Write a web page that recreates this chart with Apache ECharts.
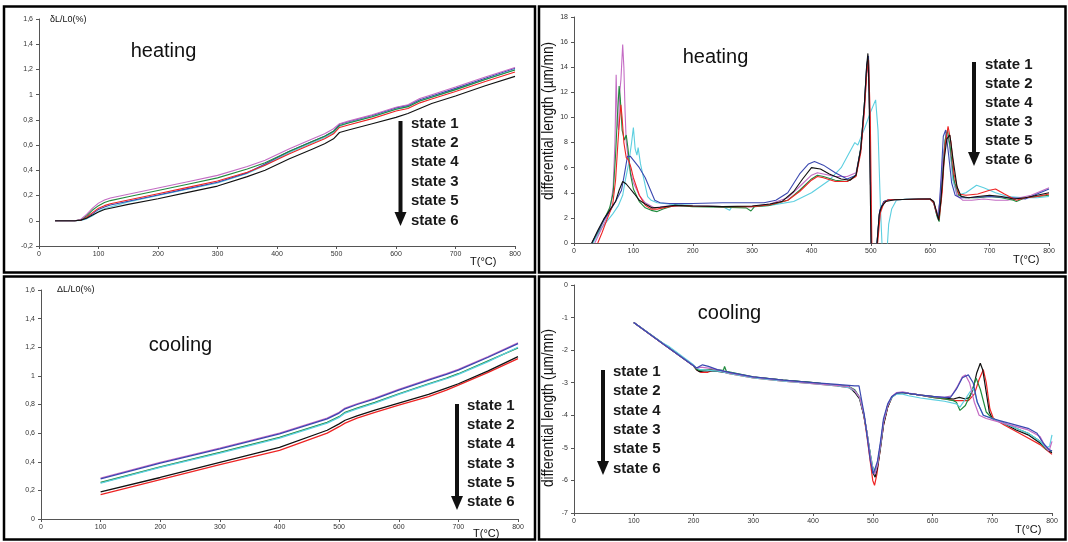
<!DOCTYPE html>
<html>
<head>
<meta charset="utf-8">
<script src="https://cdn.jsdelivr.net/npm/echarts@6/dist/echarts.min.js"></script>
<style>
html,body{margin:0;padding:0;background:#fff;}
#chart{width:1068px;height:542px;}
</style>
</head>
<body>
<div id="chart"></div>
<script>
// ---------- tick / legend labels ----------
const legendLabels = ['state 1', 'state 2', 'state 4', 'state 3', 'state 5', 'state 6'];
const seriesKeys = ['black', 'red', 'green', 'blue', 'magenta', 'cyan'];

// ---------- Panel 1 : heating, dL/L0 (%) ----------
const heatDL_T = [27,50,60,70,80,90,100,110,120,150,200,250,300,350,380,420,460,480,495,505,520,560,600,620,640,660,700,750,800];
const heatDL_black   = [0,0,0,0.005,0.02,0.045,0.07,0.09,0.10,0.13,0.175,0.225,0.275,0.35,0.40,0.49,0.57,0.61,0.65,0.70,0.72,0.77,0.82,0.85,0.89,0.93,0.99,1.07,1.145];
const heatDL_magenta = [0,0,0,0.01,0.05,0.10,0.14,0.165,0.18,0.21,0.26,0.31,0.36,0.43,0.48,0.57,0.65,0.69,0.73,0.77,0.79,0.84,0.90,0.92,0.97,1.00,1.06,1.14,1.215];
const heatDL_green   = [0,0,0,0.008,0.04,0.085,0.12,0.145,0.16,0.19,0.24,0.29,0.34,0.41,0.46,0.55,0.63,0.67,0.71,0.755,0.775,0.825,0.885,0.905,0.95,0.98,1.04,1.12,1.195];
const heatDL_red     = [0,0,0,0.005,0.03,0.065,0.10,0.12,0.135,0.165,0.215,0.265,0.315,0.385,0.44,0.53,0.61,0.65,0.69,0.74,0.76,0.81,0.87,0.89,0.935,0.965,1.025,1.105,1.18];
const heatDL_blue    = [0,0,0,0.004,0.025,0.055,0.09,0.11,0.125,0.155,0.205,0.255,0.305,0.38,0.45,0.55,0.63,0.67,0.71,0.765,0.785,0.835,0.895,0.915,0.96,0.99,1.05,1.13,1.21];
const heatDL_cyan    = [0,0,0,0.003,0.015,0.04,0.075,0.095,0.11,0.15,0.20,0.25,0.30,0.375,0.44,0.54,0.62,0.66,0.70,0.75,0.775,0.825,0.885,0.905,0.95,0.98,1.04,1.12,1.20];

// ---------- Panel 2 : heating, differential length ----------
const heatDiff_black_T = [30,40,50,60,70,76,82,88,95,102,110,120,131,145,170,200,250,300,330,350,370,385,400,415,430,450,465,475,483,489,493,495,497,499,501,508,511,514,518,525,540,580,600,606,610,614,618,623,628,633,638,645,652,665,680,700,720,740,760,780,800];
const heatDiff_black_V = [0,1.0,1.9,2.6,3.3,4.2,4.9,4.7,4.3,3.9,3.4,3.1,2.8,2.85,3.0,2.95,2.9,2.95,3.1,3.3,4.1,5.1,6.0,5.9,5.5,5.1,5.0,5.4,7.5,11,14.2,15.1,12,4,-1.5,-1.5,0.3,2.3,2.9,3.3,3.45,3.5,3.5,3.3,2.6,1.8,3.4,6.5,8.3,8.6,6.8,4.5,3.7,3.6,3.7,3.8,3.7,3.5,3.6,3.8,4.0];
const heatDiff_magenta_T = [35,45,55,62,66,69,71,73,75,77,79,82,84,86,88,92,96,100,110,120,135,150,170,200,250,300,330,360,380,400,410,420,440,460,475,483,489,493,496,498,501,508,511,515,522,530,600,606,612,616,621,627,632,638,645,655,670,690,710,730,750,770,790,800];
const heatDiff_magenta_V = [0,1.0,2.0,3.0,4.5,8,13.4,9.5,9,12,13,15.8,14,10.5,8,6.5,5.5,4.8,3.8,3.2,2.8,2.9,3.0,2.95,2.9,2.9,3.1,3.6,4.5,5.4,5.6,5.5,5.3,5.3,5.6,7.5,10.5,13.5,14.3,10,-1.5,-1.5,0.5,2.6,3.3,3.45,3.5,3.2,2.2,3.2,6.5,8.7,8,5.5,3.8,3.4,3.4,3.5,3.4,3.4,3.6,3.8,4.2,4.4];
const heatDiff_green_T = [30,42,52,60,66,70,73,76,78,81,85,88,91,95,100,110,120,130,140,150,170,200,250,290,298,304,330,360,380,400,410,420,440,460,475,483,489,493,496,498,501,508,511,515,522,530,600,606,611,615,620,625,629,634,640,648,660,680,700,720,740,745,760,780,800];
const heatDiff_green_V = [0,1.0,2.0,2.8,4.0,7,10,12.5,11.5,9,8.2,8.6,7.5,5.5,4.3,3.3,2.8,2.6,2.5,2.7,3.0,2.9,2.85,2.8,2.55,2.9,3.0,3.4,4.2,5.1,5.4,5.3,5.0,4.9,5.4,7.6,11,14,14.6,10,-1.5,-1.5,0.4,2.5,3.3,3.45,3.5,3.2,2.2,1.7,4.5,8.2,9.0,7.5,5.0,3.8,3.6,3.6,3.7,3.6,3.4,3.3,3.6,3.7,3.8];
const heatDiff_red_T = [40,47,55,65,70,74,77,79,81,84,88,92,96,100,110,120,130,140,160,180,200,250,300,330,360,380,400,410,420,440,460,475,483,489,493,496,499,502,508,512,516,522,530,600,606,611,615,620,625,630,635,640,648,660,680,700,710,725,745,760,780,800];
const heatDiff_red_V = [0,0.8,1.8,3.0,5,8,10,11,10,8,6.8,6.6,6.0,5.2,3.8,3.0,2.7,2.7,2.9,3.0,2.95,2.9,2.9,3.05,3.4,4.1,5.0,5.3,5.2,4.9,4.9,5.3,7.2,10.5,13.5,14.6,10,-1.5,-1.5,0.3,2.4,3.2,3.45,3.5,3.2,2.3,1.9,4.0,7.8,9.3,8.0,5.5,3.9,3.8,3.9,4.2,4.3,3.9,3.4,3.6,3.7,3.9];
const heatDiff_blue_T = [30,40,50,60,70,80,85,90,95,100,110,120,128,136,145,160,200,250,300,320,340,360,380,395,405,420,440,460,475,483,489,493,496,498,501,508,511,515,522,530,600,605,610,614,618,622,626,631,636,642,650,660,700,740,760,780,800];
const heatDiff_blue_V = [0,0.9,1.8,2.5,3.3,4.2,5.5,6.9,6.9,6.6,6.0,5.2,4.3,3.4,3.2,3.15,3.15,3.2,3.2,3.2,3.4,4.0,5.5,6.3,6.5,6.2,5.6,5.1,5.4,7.5,11,14.2,14.9,10,-1.5,-1.5,0.4,2.6,3.3,3.45,3.5,3.3,2.5,2.0,5.0,8.5,9.0,7.0,4.8,3.8,3.6,3.6,3.7,3.6,3.5,3.9,4.3];
const heatDiff_cyan_T = [32,45,55,65,75,82,86,92,97,100,103,106,108,112,118,124,130,140,160,200,250,262,266,300,330,370,400,430,450,465,473,478,490,500,508,512,516,520,526,530,535,543,560,600,606,612,617,622,627,632,638,645,660,678,690,710,730,760,780,800];
const heatDiff_cyan_V = [0,1.1,1.7,2.3,3.0,3.8,4.9,6.3,8,9.2,7.5,7.0,7.6,6.3,5.0,3.7,3.4,3.2,3.1,3.0,2.9,2.6,2.9,2.9,3.0,3.3,4.0,5.0,6.0,7.3,8.0,7.8,9.2,10.5,11.4,9,3,-1.5,-1.5,1.5,2.7,3.4,3.5,3.5,3.2,2.0,3.5,7,8.8,8,5,3.8,4.0,4.6,4.4,4.0,3.7,3.6,3.6,3.7];

// ---------- Panel 3 : cooling, dL/L0 (%) ----------
const coolDL_T = [100,200,300,400,480,500,510,530,560,600,650,680,700,750,800];
const coolDL_blue    = [0.28,0.39,0.49,0.595,0.70,0.74,0.77,0.80,0.84,0.90,0.97,1.01,1.04,1.13,1.225];
const coolDL_magenta = [0.285,0.395,0.495,0.60,0.705,0.745,0.775,0.805,0.845,0.905,0.975,1.015,1.045,1.135,1.23];
const coolDL_cyan    = [0.25,0.36,0.46,0.565,0.67,0.71,0.74,0.77,0.81,0.87,0.94,0.98,1.01,1.10,1.20];
const coolDL_green   = [0.255,0.365,0.465,0.57,0.675,0.715,0.745,0.775,0.815,0.875,0.945,0.985,1.015,1.105,1.195];
const coolDL_black   = [0.19,0.29,0.395,0.50,0.62,0.665,0.69,0.72,0.76,0.81,0.87,0.915,0.945,1.035,1.135];
const coolDL_red     = [0.17,0.275,0.38,0.48,0.60,0.645,0.67,0.705,0.745,0.795,0.855,0.90,0.935,1.025,1.12];

// ---------- Panel 4 : cooling, differential length ----------
const coolDiff_black_T = [100,150,200,205,210,220,240,260,300,350,400,440,460,470,478,485,490,495,500,504,508,513,518,525,532,540,550,560,580,600,620,635,645,655,662,668,674,680,684,690,695,700,720,740,760,780,790,795,800];
const coolDiff_black_V = [-1.15,-1.82,-2.48,-2.6,-2.66,-2.63,-2.65,-2.7,-2.83,-2.92,-3.0,-3.08,-3.12,-3.3,-3.5,-4.0,-4.5,-5.1,-5.75,-5.9,-5.6,-5.0,-4.3,-3.75,-3.45,-3.32,-3.3,-3.33,-3.38,-3.42,-3.47,-3.5,-3.45,-3.5,-3.45,-3.2,-2.7,-2.4,-2.6,-3.3,-3.9,-4.1,-4.25,-4.45,-4.6,-4.85,-5.0,-5.1,-5.15];
const coolDiff_red_T = [100,150,200,205,212,224,235,260,300,350,400,440,460,470,478,485,490,495,500,503,507,512,518,525,532,540,550,560,580,600,620,640,650,660,670,678,685,690,696,702,720,740,760,780,790,800];
const coolDiff_red_V = [-1.15,-1.82,-2.48,-2.6,-2.68,-2.68,-2.6,-2.72,-2.85,-2.95,-3.03,-3.1,-3.15,-3.25,-3.45,-4.0,-4.6,-5.3,-6.0,-6.15,-5.8,-5.1,-4.3,-3.75,-3.45,-3.33,-3.3,-3.33,-3.38,-3.45,-3.5,-3.55,-3.55,-3.55,-3.35,-2.9,-2.6,-3.0,-3.8,-4.1,-4.3,-4.5,-4.7,-4.9,-5.05,-5.2];
const coolDiff_green_T = [100,150,200,205,210,230,250,252,255,300,350,400,440,460,470,478,485,490,495,500,504,508,513,518,525,532,540,550,560,580,600,620,635,640,646,655,665,673,680,690,700,720,740,760,780,790,800];
const coolDiff_green_V = [-1.15,-1.8,-2.47,-2.58,-2.62,-2.6,-2.62,-2.5,-2.65,-2.82,-2.92,-3.0,-3.08,-3.12,-3.22,-3.45,-3.95,-4.5,-5.1,-5.6,-5.7,-5.5,-4.9,-4.2,-3.7,-3.45,-3.32,-3.3,-3.33,-3.38,-3.45,-3.5,-3.55,-3.6,-3.85,-3.7,-3.3,-2.86,-3.2,-3.9,-4.1,-4.25,-4.4,-4.55,-4.8,-5.05,-5.1];
const coolDiff_blue_T = [100,150,200,205,215,225,240,260,300,350,400,440,460,470,477,481,486,491,496,501,504,508,513,518,525,532,540,550,560,580,600,620,630,640,650,660,668,675,685,700,720,740,760,775,785,795,800];
const coolDiff_blue_V = [-1.15,-1.82,-2.48,-2.55,-2.45,-2.5,-2.6,-2.68,-2.82,-2.92,-3.0,-3.05,-3.08,-3.1,-3.1,-3.5,-4.0,-4.7,-5.4,-5.8,-5.75,-5.4,-4.8,-4.1,-3.65,-3.42,-3.32,-3.3,-3.33,-3.38,-3.42,-3.45,-3.45,-3.2,-2.85,-2.76,-3.0,-3.6,-4.0,-4.1,-4.2,-4.3,-4.4,-4.55,-4.85,-5.05,-5.1];
const coolDiff_magenta_T = [100,150,200,205,212,225,245,260,300,350,400,440,460,470,478,485,490,495,500,504,508,513,518,525,532,540,550,560,580,600,620,632,642,650,655,662,670,678,690,700,720,740,760,780,790,795,800];
const coolDiff_magenta_V = [-1.15,-1.82,-2.48,-2.55,-2.52,-2.55,-2.62,-2.7,-2.83,-2.93,-3.02,-3.08,-3.12,-3.25,-3.45,-3.95,-4.5,-5.15,-5.7,-5.8,-5.5,-4.9,-4.2,-3.7,-3.42,-3.3,-3.28,-3.32,-3.38,-3.43,-3.45,-3.4,-3.1,-2.82,-2.76,-3.0,-3.6,-4.0,-4.1,-4.15,-4.25,-4.35,-4.45,-4.65,-5.0,-5.1,-4.8];
const coolDiff_cyan_T = [100,150,160,200,205,212,225,245,260,300,350,400,440,460,470,478,485,490,495,500,504,508,513,518,525,532,540,550,560,580,600,620,640,646,655,662,669,675,685,700,720,740,760,780,790,796,800];
const coolDiff_cyan_V = [-1.15,-1.8,-1.9,-2.45,-2.55,-2.6,-2.62,-2.65,-2.72,-2.85,-2.95,-3.03,-3.1,-3.15,-3.25,-3.45,-3.95,-4.5,-5.1,-5.6,-5.75,-5.5,-4.9,-4.2,-3.7,-3.45,-3.35,-3.35,-3.4,-3.47,-3.52,-3.57,-3.65,-3.75,-3.5,-3.3,-3.17,-3.6,-4.0,-4.1,-4.25,-4.4,-4.55,-4.8,-5.0,-4.95,-4.6];

// ---------- styling ----------
const COLORS = {black:'#111111', red:'#ee2424', green:'#1f8a3c', blue:'#3a48b0', magenta:'#c46cc4', cyan:'#5ccfe0'};
const FONT = 'Liberation Sans, Arial, sans-serif';

function pairs(T, V) { return T.map((t, i) => [t, V[i]]); }
function commaFmt(v) { return String(Math.round(v * 10) / 10).replace('.', ','); }

function xAx(gi) {
  return {
    type: 'value', gridIndex: gi, min: 0, max: 800, interval: 100,
    axisLine: {onZero: false, lineStyle: {color: '#555', width: 1}},
    axisTick: {show: true, length: 3, lineStyle: {color: '#555'}},
    axisLabel: {fontSize: 7, color: '#333', margin: 5, fontFamily: FONT},
    splitLine: {show: false}
  };
}
function yAx(gi, min, max, interval, fmt) {
  return {
    type: 'value', gridIndex: gi, min: min, max: max, interval: interval,
    axisLine: {show: true, onZero: false, lineStyle: {color: '#555', width: 1}},
    axisTick: {show: true, length: 3, lineStyle: {color: '#555'}},
    axisLabel: {fontSize: 7, color: '#333', margin: 6, fontFamily: FONT, formatter: fmt},
    splitLine: {show: false}
  };
}
function line(name, gi, data, color, w) {
  return {
    name: name, type: 'line', xAxisIndex: gi, yAxisIndex: gi, data: data,
    showSymbol: false, symbol: 'none', clip: true, animation: false,
    lineStyle: {color: color, width: w || 1}, itemStyle: {color: color}
  };
}

const series = [];
// panel 1
const heatDL = {black: heatDL_black, red: heatDL_red, green: heatDL_green, blue: heatDL_blue, magenta: heatDL_magenta, cyan: heatDL_cyan};
['cyan','blue','red','green','magenta','black'].forEach(k => series.push(line(k, 0, pairs(heatDL_T, heatDL[k]), COLORS[k], 1.1)));
// panel 2
const heatDiff = {
  black: pairs(heatDiff_black_T, heatDiff_black_V), red: pairs(heatDiff_red_T, heatDiff_red_V),
  green: pairs(heatDiff_green_T, heatDiff_green_V), blue: pairs(heatDiff_blue_T, heatDiff_blue_V),
  magenta: pairs(heatDiff_magenta_T, heatDiff_magenta_V), cyan: pairs(heatDiff_cyan_T, heatDiff_cyan_V)
};
['cyan','magenta','green','blue','red','black'].forEach(k => series.push(line(k, 1, heatDiff[k], COLORS[k], 1.1)));
// panel 3
const coolDL = {black: coolDL_black, red: coolDL_red, green: coolDL_green, blue: coolDL_blue, magenta: coolDL_magenta, cyan: coolDL_cyan};
['red','black','green','cyan','magenta','blue'].forEach(k => series.push(line(k, 2, pairs(coolDL_T, coolDL[k]), COLORS[k], 1.3)));
// panel 4
const coolDiff = {
  black: pairs(coolDiff_black_T, coolDiff_black_V), red: pairs(coolDiff_red_T, coolDiff_red_V),
  green: pairs(coolDiff_green_T, coolDiff_green_V), blue: pairs(coolDiff_blue_T, coolDiff_blue_V),
  magenta: pairs(coolDiff_magenta_T, coolDiff_magenta_V), cyan: pairs(coolDiff_cyan_T, coolDiff_cyan_V)
};
['red','black','green','cyan','magenta','blue'].forEach(k => series.push(line(k, 3, coolDiff[k], COLORS[k], 1.2)));

// ---------- annotations ----------
const graphics = [];
function frame(x, y, w, h) {
  graphics.push({type: 'rect', shape: {x: x, y: y, width: w, height: h}, style: {fill: 'none', stroke: '#000', lineWidth: 2.5}, silent: true, z: 100});
}
frame(4, 6.5, 531, 266);
frame(539, 6.5, 526.5, 266);
frame(4, 276.5, 531, 263);
frame(539, 276.5, 526.5, 263);

function txt(s, x, y, size, opts) {
  const o = opts || {};
  graphics.push({
    type: 'text', x: x, y: y, rotation: o.rotation || 0, scaleX: o.scaleX || 1, silent: true, z: 100,
    style: {text: s, fill: o.color || '#111', fontSize: size, fontFamily: o.family || FONT,
            fontWeight: o.weight || 'normal', textAlign: o.align || 'left', textVerticalAlign: 'middle'}
  });
}
function legendBlock(tx, ty, dy, ax, aTop, aHead, aTip) {
  legendLabels.forEach((s, i) => txt(s, tx, ty + i * dy, 15, {weight: 'bold', color: '#1a1a1a'}));
  graphics.push({type: 'rect', shape: {x: ax - 2, y: aTop, width: 4, height: aHead - aTop + 1}, style: {fill: '#111'}, silent: true, z: 100});
  graphics.push({type: 'polygon', shape: {points: [[ax - 6, aHead], [ax + 6, aHead], [ax, aTip]]}, style: {fill: '#111'}, silent: true, z: 100});
}
legendBlock(411, 123.5, 19.4, 400.5, 121, 212, 226);
legendBlock(985, 65, 19, 974, 62, 152, 166);
legendBlock(467, 405.5, 19.3, 457, 404, 496, 510);
legendBlock(613, 372, 19.3, 603, 370, 461, 475);

txt('heating', 163.5, 51, 20, {align: 'center'});
txt('heating', 715.5, 57, 20, {align: 'center'});
txt('cooling', 180.5, 345, 20, {align: 'center'});
txt('cooling', 729.5, 313, 20, {align: 'center'});

txt('T(°C)', 470, 262, 11);
txt('T(°C)', 1013, 260, 11);
txt('T(°C)', 473, 534, 11);
txt('T(°C)', 1015, 530, 11);

txt('δL/L0(%)', 50, 20, 9);
txt('ΔL/L0(%)', 57, 290, 9);
txt('differential length (µm/mn)', 548, 121, 17, {align: 'center', rotation: Math.PI / 2, scaleX: 0.8});
txt('differential length (µm/mn)', 548, 408, 17, {align: 'center', rotation: Math.PI / 2, scaleX: 0.8});

const option = {
  animation: false,
  backgroundColor: '#ffffff',
  grid: [
    {left: 39, top: 19, width: 476, height: 227},
    {left: 574, top: 17, width: 475, height: 226},
    {left: 41, top: 290, width: 477, height: 229},
    {left: 574, top: 285, width: 478, height: 228}
  ],
  xAxis: [xAx(0), xAx(1), xAx(2), xAx(3)],
  yAxis: [
    yAx(0, -0.2, 1.6, 0.2, commaFmt),
    yAx(1, 0, 18, 2, v => String(v)),
    yAx(2, 0, 1.6, 0.2, commaFmt),
    yAx(3, -7, 0, 1, v => String(v))
  ],
  series: series,
  graphic: {elements: graphics}
};

const chart = echarts.init(document.getElementById('chart'), null, {renderer: 'canvas'});
chart.setOption(option);
</script>
</body>
</html>
